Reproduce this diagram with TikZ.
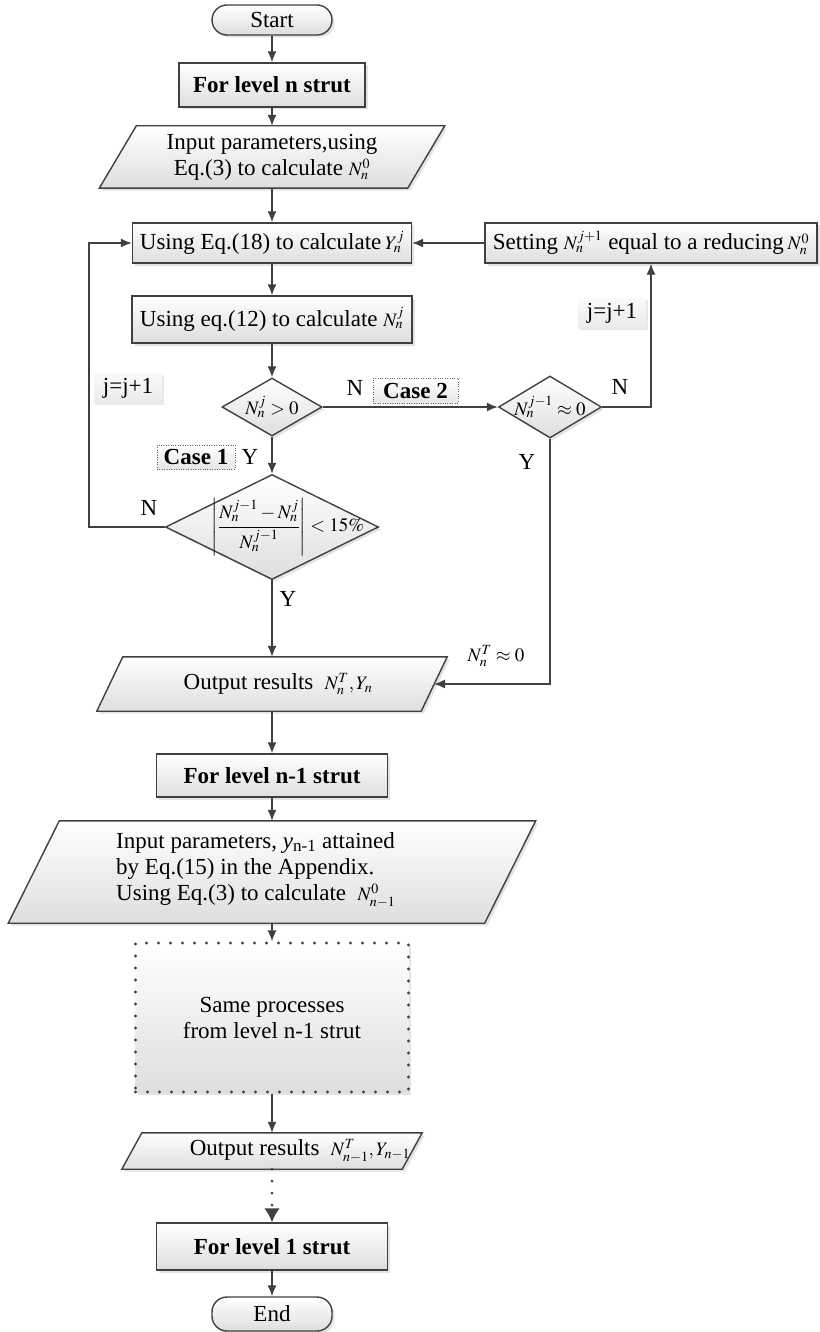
\documentclass[tikz,border=0pt]{standalone}
\usepackage{mathptmx}
\usepackage{fontspec}
\setmainfont{Liberation Serif}
\usetikzlibrary{shapes.geometric,shadows,arrows.meta,backgrounds,calc}
\newcommand\myfs{\fontsize{23}{26}\selectfont}
\newcommand\mth[1]{{\fontsize{19}{21}\selectfont$#1$}}
\tikzset{
  ln/.style={draw=black!75, line width=1.4pt},
  arr/.style={ln, -{Latex[length=11pt,width=9pt]}},
  shd/.style={top color=white, bottom color=black!13, drop shadow={opacity=0.22, shadow xshift=2.5pt, shadow yshift=-2.5pt}},
  proc/.style={rectangle, ln, shd, inner sep=0pt, font=\myfs, align=center},
  term/.style={proc, rounded corners=15pt},
  dia/.style={diamond, ln, shd, inner sep=0pt},
  frame/.style={rectangle, inner sep=0pt},
  txt/.style={font=\myfs, inner sep=0pt},
  dotframe/.style={dash pattern=on 0pt off 12pt, line cap=round, line width=3.2pt},
  casebox/.style={rectangle, draw=black!60, line width=0.8pt, dash pattern=on 0.8pt off 1.6pt, top color=white, bottom color=black!10, font=\myfs\bfseries, inner sep=0pt},
  jbox/.style={rectangle, top color=black!2, bottom color=black!8, drop shadow={opacity=0.18, shadow xshift=2pt, shadow yshift=-2pt}, font=\myfs, inner sep=0pt},
}
\begin{document}
\begin{tikzpicture}[x=1pt,y=-1pt]
\useasboundingbox (0,0) rectangle (819,1332);
% main nodes
\node[term, minimum width=120pt, minimum height=30pt] (start) at (272,20) {Start};
\node[proc, minimum width=186pt, minimum height=44pt, font=\myfs\bfseries] (b1) at (272,85) {For level n strut};
\node[frame, minimum width=345pt, minimum height=62pt, font=\myfs, align=center] (in1) at (272,157) {Input parameters,using\\Eq.(3) to calculate \mth{N_n^0}};
\node[proc, minimum width=279pt, minimum height=40pt] (yb) at (272,243) {Using Eq.(18) to calculate\,\mth{Y_n^j}};
\node[proc, minimum width=280pt, minimum height=47pt] (nb) at (272,319.5) {Using eq.(12) to calculate \mth{N_n^j}};
\node[dia, minimum width=100pt, minimum height=58pt] (d1) at (272,407) {};
\node[txt] at (d1) {\mth{N_n^j>0}};
\node[dia, minimum width=103pt, minimum height=62pt] (d2) at (550,407) {};
\node[txt] at (d2) {\mth{N_n^{j-1}\approx 0}};
\node[proc, minimum width=332pt, minimum height=40pt] (set) at (651,243) {Setting\ \mth{N_n^{j+1}} equal to a reducing\,\mth{N_n^0}};
\node[dia, minimum width=213pt, minimum height=105pt] (d3) at (272,527) {};
\node[txt] at (288,527) {\mth{\left|\displaystyle\frac{N_n^{j-1}-N_n^j}{N_n^{j-1}}\right|<15\%}};
\node[frame, minimum width=350pt, minimum height=54pt] (out1) at (272,684) {};
\node[txt] at (278,684) {Output results\ \ \mth{N_n^T, Y_n}};
\node[proc, minimum width=231pt, minimum height=43pt, font=\myfs\bfseries] (b2) at (272,775.5) {For level n-1 strut};
\node[frame, minimum width=527pt, minimum height=102pt] (in2) at (272,872) {};
\node[txt, align=left, anchor=west] at (116,870) {Input parameters, \textit{y}\textsubscript{n-1} attained\\by Eq.(15) in the Appendix.\\Using Eq.(3) to calculate \ \mth{N_{n-1}^0}};
\node[proc, dotframe, minimum width=273pt, minimum height=149pt] (same) at (272,1017.5) {Same processes\\from level n-1 strut};
\node[frame, minimum width=300pt, minimum height=36pt] (out2) at (272,1151) {};
\node[txt] at (300,1151) {Output results\ \ \mth{N_{n-1}^T, Y_{n-1}}};
\node[proc, minimum width=231pt, minimum height=47pt, font=\myfs\bfseries] (b3) at (272,1246.5) {For level 1 strut};
\node[term, minimum width=120pt, minimum height=34pt] (end) at (272,1314) {End};
% parallelograms
\begin{scope}[on background layer]
\path[ln, shd] (in1.south west) -- ($(in1.south east)+(-37,0)$) -- (in1.north east) -- ($(in1.north west)+(37,0)$) -- cycle;
\path[ln, shd] (out1.south west) -- ($(out1.south east)+(-26,0)$) -- (out1.north east) -- ($(out1.north west)+(26,0)$) -- cycle;
\path[ln, shd] (in2.south west) -- ($(in2.south east)+(-51,0)$) -- (in2.north east) -- ($(in2.north west)+(51,0)$) -- cycle;
\path[ln, shd] (out2.south west) -- ($(out2.south east)+(-20,0)$) -- (out2.north east) -- ($(out2.north west)+(20,0)$) -- cycle;
\end{scope}
% labels
\node[txt] at (355,388) {N};
\node[casebox, minimum width=85pt, minimum height=25pt] (c2) at (415.5,390.5) {Case 2};
\node[txt] at (620,387) {N};
\node[jbox, minimum width=68pt, minimum height=30pt] (j2) at (612,313) {j=j+1};
\node[jbox, minimum width=68pt, minimum height=30pt] (j1) at (128,388) {j=j+1};
\node[txt] at (527,462) {Y};
\node[casebox, minimum width=78pt, minimum height=24pt] (c1) at (196,457) {Case 1};
\node[txt] at (250,457) {Y};
\node[txt] at (149,508) {N};
\node[txt] at (288,599) {Y};
\node[txt] at (496,656) {\mth{N_n^T\approx 0}};
% connectors
\draw[arr] (start) -- (b1);
\draw[arr] (b1) -- (in1);
\draw[arr] (in1) -- (yb);
\draw[arr] (yb) -- (nb);
\draw[arr] (nb) -- (d1);
\draw[arr] (d1) -- (d2);
\draw[arr] (d2.east) -| (set.south);
\draw[arr] (set) -- (yb);
\draw[arr] (d1) -- (d3);
\coordinate (lx) at (89,527);
\draw[arr] (d3.west) -- (lx) |- (yb.west);
\draw[arr] (d3) -- (out1);
\coordinate (o1r) at (434,684);
\draw[arr] (d2.south) |- (o1r);
\draw[arr] (out1) -- (b2);
\draw[arr] (b2) -- (in2);
\draw[arr] (in2) -- (same);
\draw[arr] (same) -- (out2);
\draw[ln, line width=3pt, dash pattern=on 0pt off 12pt, line cap=round, -{Latex[length=14pt,width=16pt]}] (out2) -- (b3);
\draw[arr] (b3) -- (end);
\end{tikzpicture}
\end{document}
